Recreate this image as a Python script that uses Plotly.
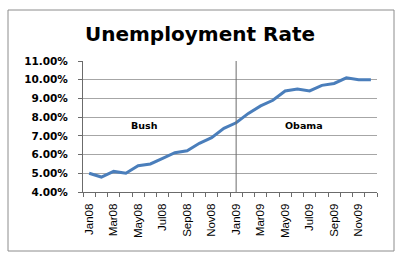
import plotly.graph_objects as go

months = ["Jan08","Feb08","Mar08","Apr08","May08","Jun08","Jul08","Aug08","Sep08","Oct08","Nov08","Dec08",
          "Jan09","Feb09","Mar09","Apr09","May09","Jun09","Jul09","Aug09","Sep09","Oct09","Nov09","Dec09"]
rates = [5.0,4.8,5.1,5.0,5.4,5.5,5.8,6.1,6.2,6.6,6.9,7.4,
         7.7,8.2,8.6,8.9,9.4,9.5,9.4,9.7,9.8,10.1,10.0,10.0]
yticks = [4,5,6,7,8,9,10,11]
labels = ["Bush", "Obama"]
label_pos = [4.5, 17.5]
label_y = 7.55
divider = "Jan09"

x = list(range(len(months)))
fig = go.Figure()
fig.add_trace(go.Scatter(x=x, y=rates, mode="lines",
                         line=dict(color="#4a7ebb", width=3), hoverinfo="skip"))

div_x = months.index(divider)
fig.add_shape(type="line", x0=div_x, x1=div_x, y0=4, y1=11, xref="x", yref="y",
              line=dict(color="#6b6b6b", width=1))

for t, px in zip(labels, label_pos):
    fig.add_annotation(x=px, y=label_y, text="<b>%s</b>" % t, showarrow=False,
                       font=dict(family="DejaVu Sans", size=9.5, color="black"))

# border
fig.add_shape(type="rect", xref="paper", yref="paper",
              x0=(8-83)/294, x1=(394-83)/294, y0=(192-251)/131, y1=(192-10)/131,
              line=dict(color="#8c8c8c", width=1))

fig.update_layout(
    width=400, height=260,
    margin=dict(l=83, r=23, t=61, b=68),
    paper_bgcolor="white", plot_bgcolor="white",
    showlegend=False,
    title=dict(text="<b>Unemployment Rate</b>", x=0.5, xanchor="center",
               yref="container", y=1-34/260, yanchor="middle",
               font=dict(family="DejaVu Sans", size=20, color="black")),
    xaxis=dict(range=[-0.5, len(months)-0.5],
               tickmode="array", tickvals=x[::2], ticktext=months[::2],
               tickangle=-90, ticks="", ticklabelstandoff=6,
               tickfont=dict(family="Liberation Sans", size=11.5, color="black"),
               showgrid=False, zeroline=False,
               showline=True, linecolor="#6b6b6b", linewidth=1,
               minor=dict(tick0=-0.5, dtick=1, ticks="outside", ticklen=4,
                          tickcolor="#6b6b6b", showgrid=False)),
    yaxis=dict(range=[4, 11], tickmode="array", tickvals=yticks,
               ticktext=["%.2f%%" % v for v in yticks],
               ticks="outside", ticklen=4, tickcolor="#6b6b6b", ticklabelstandoff=8,
               tickfont=dict(family="DejaVu Sans", size=10.5, color="black", weight="bold"),
               showgrid=True, gridcolor="#a6a6a6", gridwidth=1, zeroline=False,
               showline=True, linecolor="#6b6b6b", linewidth=1),
)
fig.write_html("out.html")
